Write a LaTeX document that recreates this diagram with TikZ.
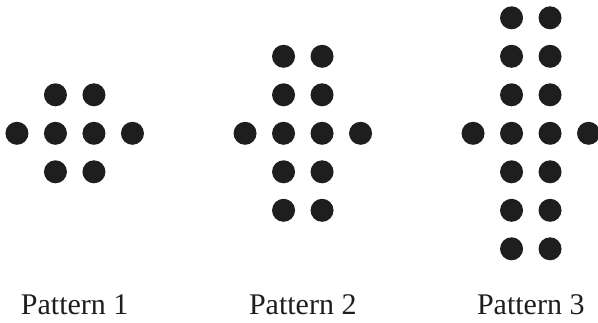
\documentclass[tikz,border=0pt]{standalone}
\usepackage{fontspec}
\setmainfont{Liberation Serif}
\definecolor{ink}{HTML}{1E1E1E}
\begin{document}
\begin{tikzpicture}[x=1pt,y=-1pt,
  dot/.style={circle,fill=ink,draw=none,minimum size=23pt,inner sep=0pt},
  lbl/.style={anchor=base,text=ink,font=\fontsize{30}{36}\selectfont,inner sep=0pt}]
\useasboundingbox (0,0) rectangle (598,322);
\foreach \n/\cx in {1/74.7,2/302.8,3/530.8}{
  % centre row of four
  \node[dot] (p\n-c1) at (\cx-57.75,133.3) {};
  \node[dot] (p\n-c2) at (\cx-19.25,133.3) {};
  \node[dot] (p\n-c3) at (\cx+19.25,133.3) {};
  \node[dot] (p\n-c4) at (\cx+57.75,133.3) {};
  % columns above and below
  \foreach \k in {1,...,\n}{
    \node[dot] (p\n-u\k l) at (\cx-19.25,133.3-38.5*\k) {};
    \node[dot] (p\n-u\k r) at (\cx+19.25,133.3-38.5*\k) {};
    \node[dot] (p\n-d\k l) at (\cx-19.25,133.3+38.5*\k) {};
    \node[dot] (p\n-d\k r) at (\cx+19.25,133.3+38.5*\k) {};
  }
  \node[lbl] (t\n) at (\cx,314.3) {Pattern \n};
}
\end{tikzpicture}
\end{document}
